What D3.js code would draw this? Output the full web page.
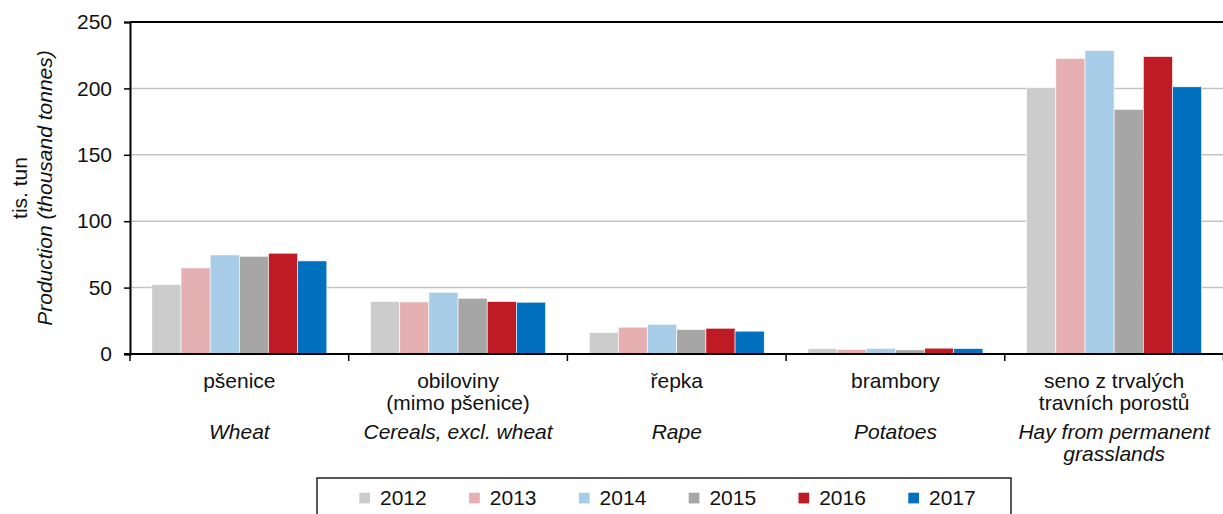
<!DOCTYPE html>
<html>
<head>
<meta charset="utf-8">
<script src="https://cdn.jsdelivr.net/npm/d3@7"></script>
<style>
  html, body { margin: 0; padding: 0; background: #fff; }
  text { font-family: 'Liberation Sans', Arial, sans-serif; }
</style>
</head>
<body>
<div id="chart"></div>
<script>
const categories = ['wheat', 'cereals', 'rape', 'potatoes', 'hay'];
const czechLabels = [['pšenice'], ['obiloviny', '(mimo pšenice)'], ['řepka'], ['brambory'], ['seno z trvalých', 'travních porostů']];
const englishLabels = [['Wheat'], ['Cereals, excl. wheat'], ['Rape'], ['Potatoes'], ['Hay from permanent', 'grasslands']];
const years = ['2012', '2013', '2014', '2015', '2016', '2017'];
const yearColors = ['#cccccc', '#e6b0b3', '#a7cde8', '#a6a6a6', '#be1b24', '#0070bf'];

// production per category, one value per year (thousand tonnes)
const values2012 = [52.3, 39.5, 16.2, 4.1, 200.5];
const values2013 = [64.8, 39.2, 20.2, 3.4, 222.6];
const values2014 = [74.6, 46.5, 22.4, 4.2, 228.6];
const values2015 = [73.6, 42.0, 18.4, 3.1, 184.2];
const values2016 = [75.9, 39.5, 19.4, 4.4, 224.0];
const values2017 = [70.1, 39.0, 17.2, 4.1, 201.2];
const seriesValues = [values2012, values2013, values2014, values2015, values2016, values2017];

const yTicks = [0, 50, 100, 150, 200, 250];

const width = 1223;
const height = 514;
const margin = { top: 22, right: 0, bottom: 160, left: 130 };
const plotBottom = height - margin.bottom;

const svg = d3.select('#chart').append('svg')
  .attr('width', width).attr('height', height);

const x = d3.scaleBand().domain(categories).range([margin.left, 1223.5]).padding(0);
const xInner = d3.scaleBand().domain(years).range([0, x.bandwidth()]).paddingInner(0).paddingOuter(0.75);
const y = d3.scaleLinear().domain([0, 250]).range([plotBottom, margin.top]);

// gridlines
svg.append('g').selectAll('line').data(yTicks.filter((t) => t > 0 && t < 250))
  .join('line')
  .attr('x1', margin.left).attr('x2', width)
  .attr('y1', (d) => y(d)).attr('y2', (d) => y(d))
  .attr('stroke', '#c4c4c4').attr('stroke-width', 1.5);

// top line at 250
svg.append('line')
  .attr('x1', margin.left).attr('x2', width)
  .attr('y1', y(250)).attr('y2', y(250))
  .attr('stroke', '#000').attr('stroke-width', 2);

// bars
const groups = svg.append('g').selectAll('g').data(categories)
  .join('g')
  .attr('transform', (d) => `translate(${x(d)},0)`);

groups.selectAll('rect')
  .data((d, i) => years.map((yr, j) => ({ year: yr, value: seriesValues[j][i], color: yearColors[j] })))
  .join('rect')
  .attr('x', (d) => xInner(d.year))
  .attr('width', xInner.bandwidth())
  .attr('y', (d) => y(d.value))
  .attr('height', (d) => y(0) - y(d.value))
  .attr('fill', (d) => d.color)
  .attr('stroke', '#fff').attr('stroke-width', 0.6);

// y axis
const yAxis = svg.append('g')
  .attr('transform', `translate(${margin.left},0)`)
  .call(d3.axisLeft(y).tickValues(yTicks).tickSize(6).tickPadding(12));
yAxis.select('.domain').attr('stroke', '#000').attr('stroke-width', 2);
yAxis.selectAll('.tick line').attr('stroke', '#000').attr('stroke-width', 1.5);
yAxis.selectAll('.tick text')
  .attr('font-size', 21).attr('fill', '#111')
  .style('font-family', "'Liberation Sans', Arial, sans-serif");

// x axis with boundary ticks
const bounds = categories.map((c) => x(c)).concat([x.range()[1]]);
svg.append('line')
  .attr('x1', margin.left - 6).attr('x2', width)
  .attr('y1', y(0)).attr('y2', y(0))
  .attr('stroke', '#000').attr('stroke-width', 2);
svg.append('g').selectAll('line').data(bounds)
  .join('line')
  .attr('x1', (d) => d).attr('x2', (d) => d)
  .attr('y1', y(0)).attr('y2', y(0) + 7)
  .attr('stroke', '#000').attr('stroke-width', 1.5);

// category labels
const labelG = svg.append('g').attr('font-size', 21).attr('fill', '#111').attr('text-anchor', 'middle');
categories.forEach((c, i) => {
  const cx = x(c) + x.bandwidth() / 2;
  czechLabels[i].forEach((line, k) => {
    labelG.append('text').attr('x', cx).attr('y', 381 + k * 22).attr('dy', '0.35em').text(line);
  });
  englishLabels[i].forEach((line, k) => {
    labelG.append('text').attr('x', cx).attr('y', 432 + k * 22).attr('dy', '0.35em')
      .attr('font-style', 'italic').text(line);
  });
});

// y axis title
const titleY = (margin.top + plotBottom) / 2;
svg.append('text')
  .attr('transform', `translate(20,${titleY}) rotate(-90)`)
  .attr('text-anchor', 'middle').attr('dy', '0.35em')
  .attr('font-size', 21).attr('fill', '#111')
  .text('tis. tun');
svg.append('text')
  .attr('transform', `translate(45,${titleY}) rotate(-90)`)
  .attr('text-anchor', 'middle').attr('dy', '0.35em')
  .attr('font-size', 21).attr('font-style', 'italic').attr('fill', '#111')
  .text('Production (thousand tonnes)');

// legend
const legend = svg.append('g');
legend.append('rect')
  .attr('x', 317).attr('y', 478).attr('width', 694).attr('height', 50)
  .attr('fill', '#fff').attr('stroke', '#222').attr('stroke-width', 1.5);
const legendItems = legend.selectAll('g').data(years)
  .join('g')
  .attr('transform', (d, i) => `translate(${359.3 + i * 109.8},498)`);
legendItems.append('rect')
  .attr('x', 0).attr('y', -5.3).attr('width', 10.7).attr('height', 10.7)
  .attr('fill', (d, i) => yearColors[i]);
legendItems.append('text')
  .attr('x', 20.7).attr('dy', '0.35em')
  .attr('font-size', 21).attr('fill', '#111')
  .text((d) => d);
</script>
</body>
</html>
